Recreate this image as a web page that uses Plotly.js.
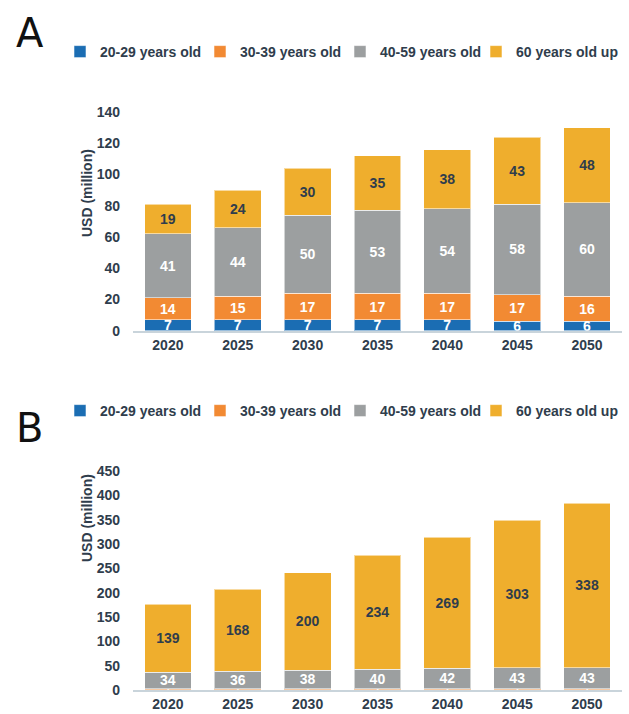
<!DOCTYPE html>
<html>
<head>
<meta charset="utf-8">
<script src="https://cdn.plot.ly/plotly-3.0.1.min.js"></script>
<style>html,body{margin:0;padding:0;background:#fff;}#chart{width:629px;height:714px;}</style>
</head>
<body>
<div id="chart"></div>
<script>
const years = ["2020", "2025", "2030", "2035", "2040", "2045", "2050"];
const seriesNames = ["20-29 years old", "30-39 years old", "40-59 years old", "60 years old up"];

// Panel A values (USD million)
const a_20_29 = [7, 7, 7, 7, 7, 6, 6];
const a_30_39 = [14, 15, 17, 17, 17, 17, 16];
const a_40_59 = [41, 44, 50, 53, 54, 58, 60];
const a_60_up = [19, 24, 30, 35, 38, 43, 48];

// Panel B values (USD million)
const b_20_29 = [1, 1, 1, 1, 1, 1, 1];
const b_30_39 = [2, 2, 2, 2, 2, 2, 2];
const b_40_59 = [34, 36, 38, 40, 42, 43, 43];
const b_60_up = [139, 168, 200, 234, 269, 303, 338];

const colors = ["#1b6db3", "#f28a33", "#9c9fa0", "#efae2d"];
const textColors = ["#ffffff", "#ffffff", "#ffffff", "#2f3d4c"];
const dark = "#2f3d4c";
const FONT = "Liberation Sans, Arial, sans-serif";

function mk(vals, i, xa, ya, leg, fsize) {
  return {
    type: "bar", x: years, y: vals, name: seriesNames[i],
    xaxis: xa, yaxis: ya, legend: leg,
    marker: {color: colors[i], line: {color: "rgba(255,255,255,0.55)", width: 1}},
    text: vals.map(String), textposition: "inside", textangle: 0,
    insidetextanchor: "middle", constraintext: "none",
    textfont: {family: FONT, size: fsize || 14, color: textColors[i], weight: "bold"},
    hoverinfo: "x+y+name"
  };
}

const data = [
  mk(a_20_29, 0, "x", "y", "legend"),
  mk(a_30_39, 1, "x", "y", "legend2"),
  mk(a_40_59, 2, "x", "y", "legend3"),
  mk(a_60_up, 3, "x", "y", "legend4"),
  mk(b_20_29, 0, "x2", "y2", "legend5", 8),
  mk(b_30_39, 1, "x2", "y2", "legend6", 8),
  mk(b_40_59, 2, "x2", "y2", "legend7"),
  mk(b_60_up, 3, "x2", "y2", "legend8")
];

const xcommon = {
  type: "category", showgrid: false, showline: true, linecolor: "#c9d4db", linewidth: 2,
  ticks: "", zeroline: false,
  tickfont: {family: FONT, size: 14, color: dark, weight: "bold"}
};
const ycommon = {
  showgrid: false, showline: false, zeroline: false,
  ticks: "outside", ticklen: 9, tickcolor: "rgba(0,0,0,0)",
  tickfont: {family: FONT, size: 14, color: dark, weight: "bold"}
};

function leg(xpx, ypx) {
  return {
    orientation: "h", xanchor: "left", yanchor: "middle",
    x: xpx / 629, y: 1 - ypx / 714,
    font: {family: FONT, size: 14, color: dark, weight: "bold"},
    itemwidth: 30, bgcolor: "rgba(0,0,0,0)"
  };
}
const legX = [60, 200, 340, 476];

const layout = {
  width: 629, height: 714,
  margin: {l: 0, r: 0, t: 0, b: 0},
  paper_bgcolor: "#ffffff", plot_bgcolor: "#ffffff",
  barmode: "stack", bargap: 0.33,
  showlegend: true,
  xaxis: Object.assign({}, xcommon, {domain: [0.2114, 0.9889], anchor: "y"}),
  yaxis: Object.assign({}, ycommon, {domain: [0.5368, 0.8431], range: [0, 140], dtick: 20, anchor: "x"}),
  xaxis2: Object.assign({}, xcommon, {domain: [0.2114, 0.9889], anchor: "y2"}),
  yaxis2: Object.assign({}, ycommon, {domain: [0.0336, 0.3403], range: [0, 450], dtick: 50, anchor: "x2"}),
  legend: leg(legX[0], 52),
  legend2: leg(legX[1], 52),
  legend3: leg(legX[2], 52),
  legend4: leg(legX[3], 52),
  legend5: leg(legX[0], 411),
  legend6: leg(legX[1], 411),
  legend7: leg(legX[2], 411),
  legend8: leg(legX[3], 411),
  annotations: [
    {text: "A", xref: "paper", yref: "paper", x: 30 / 629, y: 1 - 33 / 714, showarrow: false,
     font: {family: "DejaVu Sans, sans-serif", size: 40, color: "#111"}, xanchor: "center", yanchor: "middle"},
    {text: "B", xref: "paper", yref: "paper", x: 29 / 629, y: 1 - 428 / 714, showarrow: false,
     font: {family: "DejaVu Sans, sans-serif", size: 40, color: "#111"}, xanchor: "center", yanchor: "middle"},
    {text: "USD (million)", xref: "paper", yref: "paper", x: 87 / 629, y: 1 - 193 / 714, showarrow: false,
     textangle: -90, font: {family: FONT, size: 14, color: dark, weight: "bold"}, xanchor: "center", yanchor: "middle"},
    {text: "USD (million)", xref: "paper", yref: "paper", x: 87 / 629, y: 1 - 518 / 714, showarrow: false,
     textangle: -90, font: {family: FONT, size: 14, color: dark, weight: "bold"}, xanchor: "center", yanchor: "middle"}
  ]
};

Plotly.newPlot("chart", data, layout, {displayModeBar: false, staticPlot: true});
</script>
</body>
</html>
